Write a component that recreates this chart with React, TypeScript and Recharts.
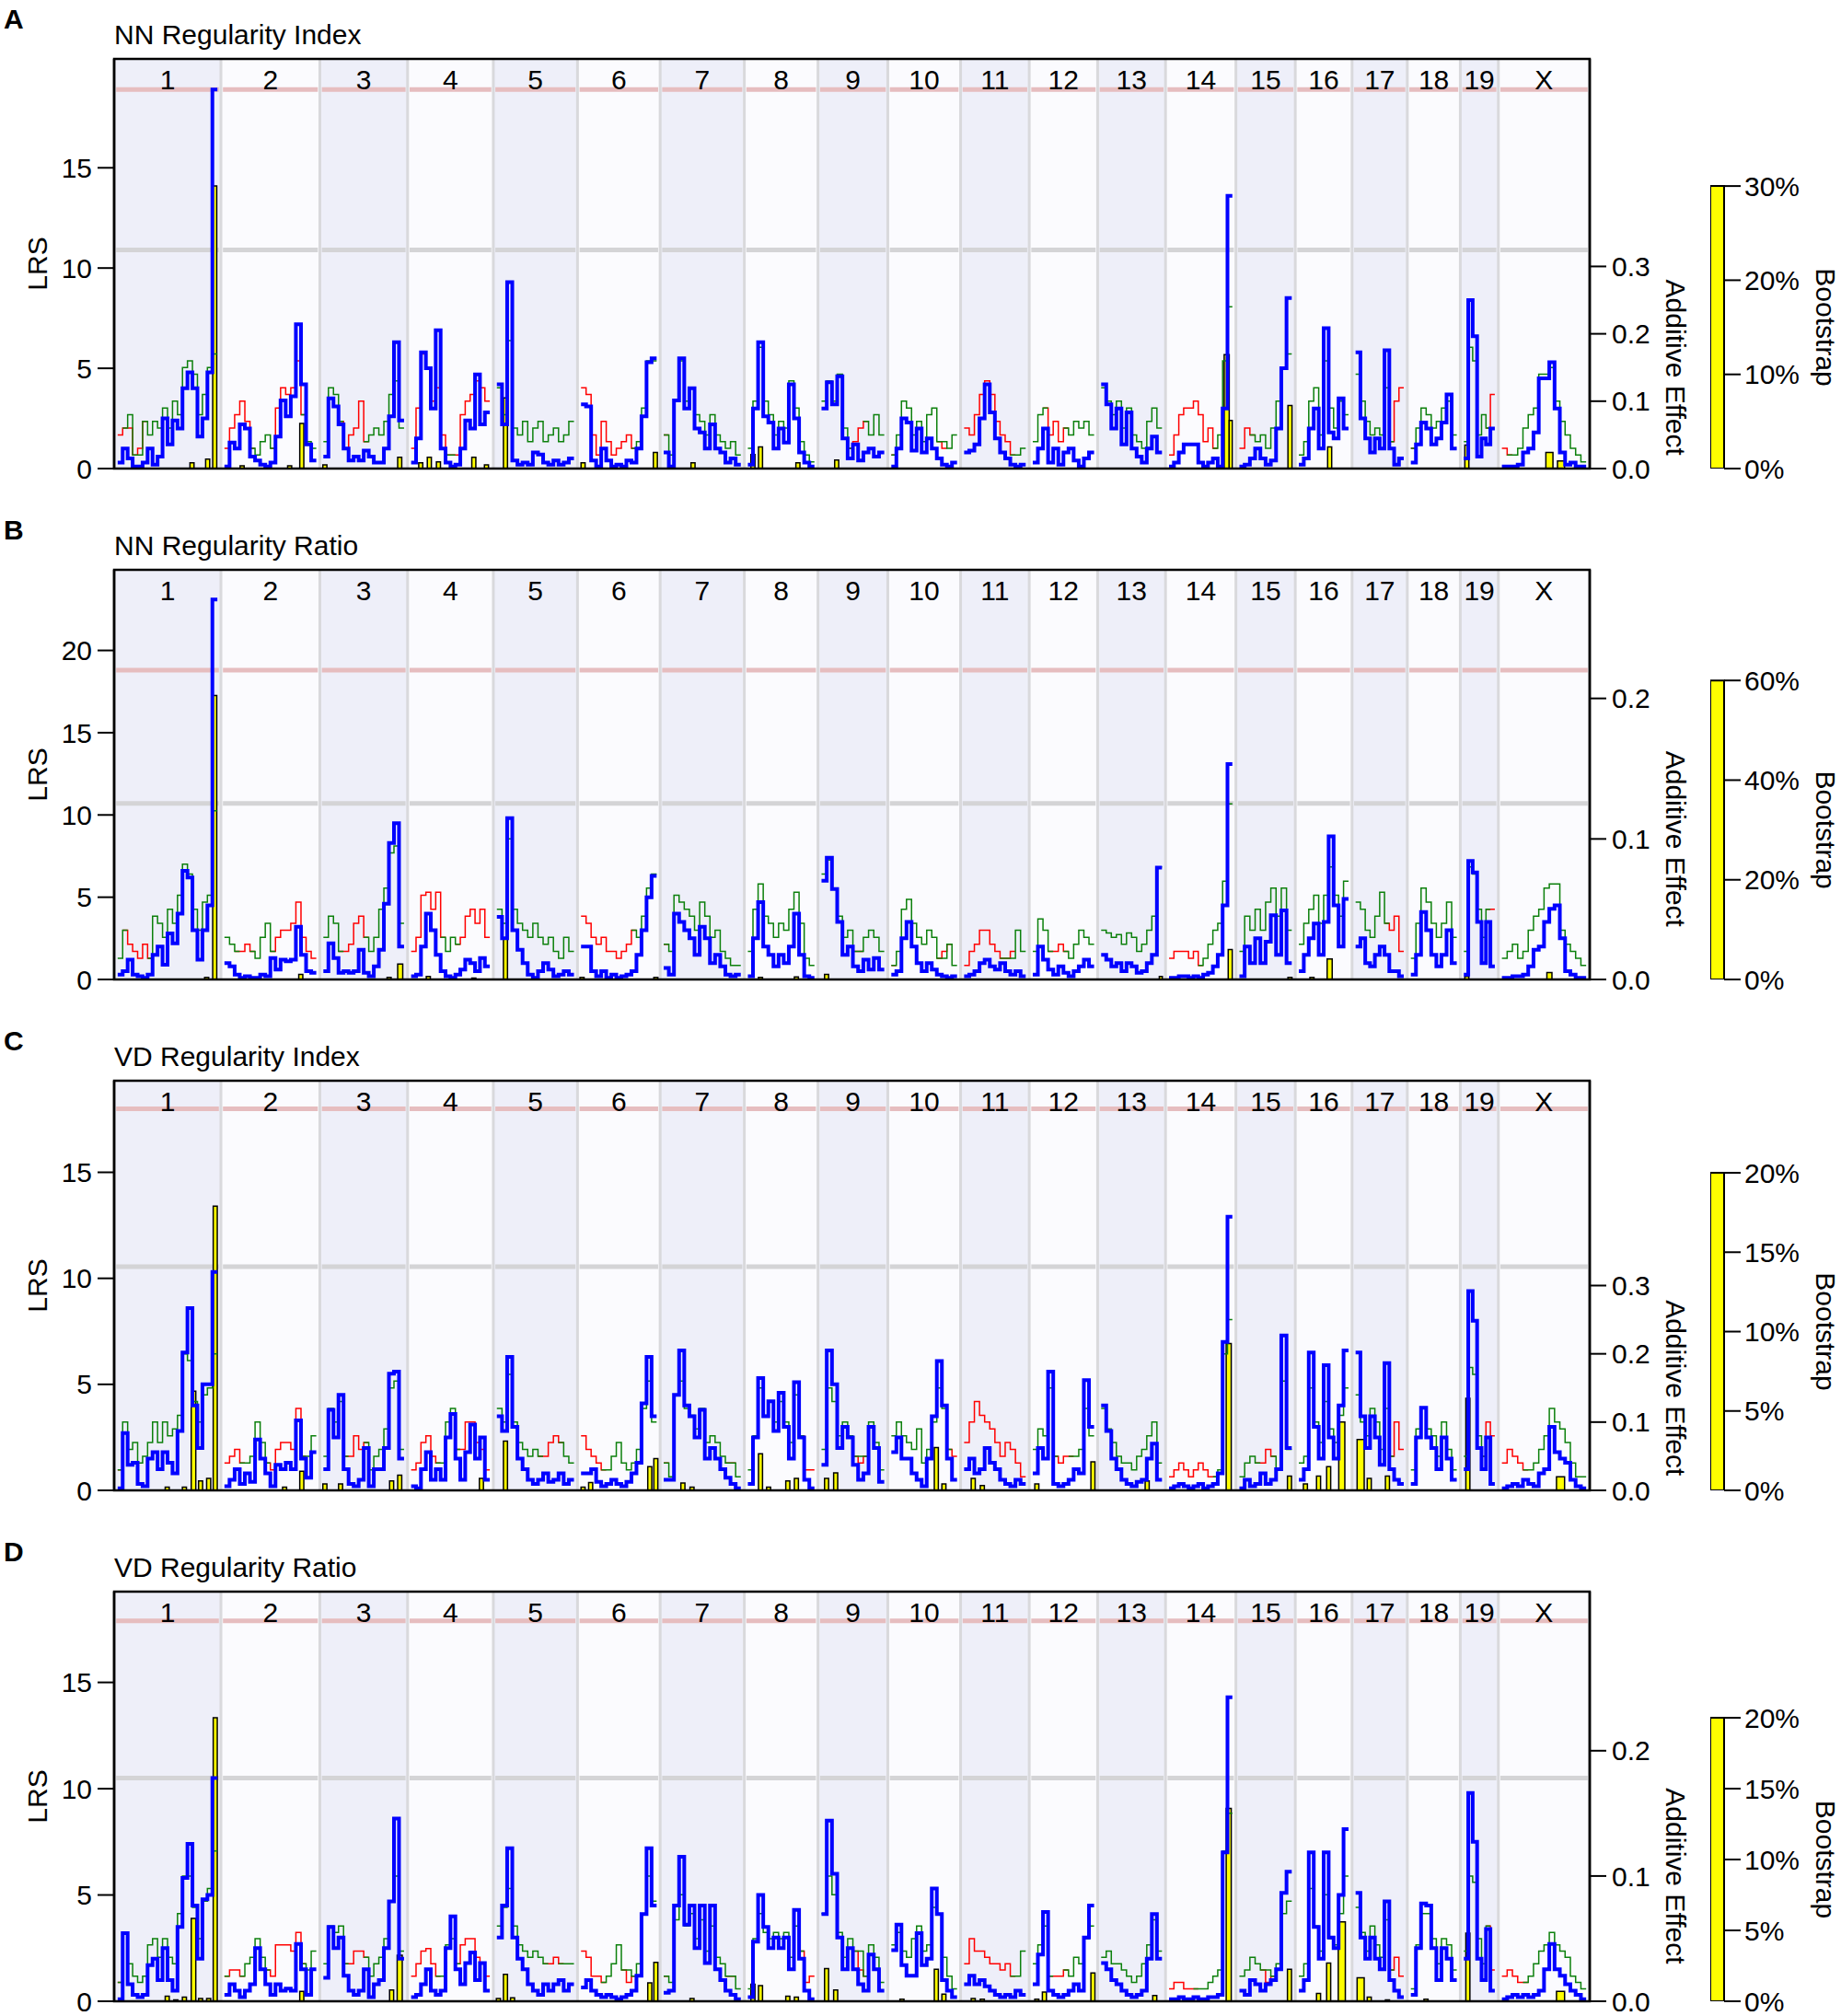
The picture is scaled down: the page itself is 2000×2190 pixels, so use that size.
import React from "react";
import {
  ComposedChart,
  BarChart,
  Bar,
  Line,
  XAxis,
  YAxis,
  ReferenceArea,
  ReferenceLine,
} from "recharts";

const FONT = '"Liberation Sans", Arial, Helvetica, sans-serif';

const CHROMS = ["1", "2", "3", "4", "5", "6", "7", "8", "9", "10", "11", "12", "13", "14", "15", "16", "17", "18", "19", "X"];
// chromosome lengths in Mb
const CHROM_MB = [197.2, 181.7, 159.6, 155.6, 152.5, 149.5, 152.5, 131.7, 124.1, 130.0, 121.8, 121.3, 120.3, 125.2, 103.5, 98.3, 95.3, 90.8, 61.3, 166.7];
const GAP_MB = 14;

const TITLES = ["NN Regularity Index", "NN Regularity Ratio", "VD Regularity Index", "VD Regularity Ratio"];
const LETTERS = ["A", "B", "C", "D"];

const LRS_MAX = [20.43, 24.9, 19.32, 19.27];
const ADD_MAX = [0.608, 0.2915, 0.6, 0.327];
const BOOT_MAX = [43.5, 82.2, 25.8, 28.9];
const SIGNIFICANT = [18.9, 18.8, 18.0, 17.9];
const SUGGESTIVE = [10.9, 10.7, 10.55, 10.5];

const LRS_TICKS = [[0, 5, 10, 15], [0, 5, 10, 15, 20], [0, 5, 10, 15], [0, 5, 10, 15]];
const ADD_TICKS = [[0, 0.1, 0.2, 0.3], [0, 0.1, 0.2], [0, 0.1, 0.2, 0.3], [0, 0.1, 0.2]];
const BOOT_TICKS = [[0, 10, 20, 30], [0, 20, 40, 60], [0, 5, 10, 15, 20], [0, 5, 10, 15, 20]];

// LRS per chromosome, left to right
const LRS_A = [
  [0.3, 1.0, 0.5, 0.1, 0.1, 0.3, 1.0, 0.2, 0.6, 2.5, 1.2, 2.4, 2.0, 4.0, 4.8, 4.0, 1.6, 2.5, 4.8, 18.9],
  [0.1, 1.3, 1.0, 2.2, 2.0, 0.6, 0.4, 0.2, 0.1, 0.3, 1.6, 3.4, 2.6, 3.6, 7.2, 4.2, 1.2, 0.4],
  [0.6, 3.5, 3.1, 2.2, 1.0, 0.4, 0.6, 0.4, 0.9, 0.6, 0.3, 0.3, 1.0, 2.6, 6.3, 2.4],
  [0.3, 1.5, 5.8, 5.0, 3.0, 6.9, 1.0, 0.3, 0.1, 0.2, 1.0, 2.4, 2.0, 4.7, 2.2, 2.8],
  [4.2, 2.2, 9.3, 0.4, 0.2, 0.3, 0.2, 0.8, 0.7, 0.3, 0.2, 0.4, 0.2, 0.3, 0.5],
  [3.2, 3.1, 0.4, 0.1, 1.0, 0.4, 0.1, 0.2, 0.1, 0.4, 0.3, 1.0, 2.6, 5.3, 5.5],
  [0.8, 0.1, 3.4, 5.5, 3.0, 4.0, 2.0, 1.8, 1.0, 2.2, 1.0, 0.8, 0.3, 0.5, 0.2],
  [0.2, 3.0, 6.3, 2.6, 2.3, 1.0, 2.0, 1.3, 4.2, 2.5, 0.8, 0.3, 0.1],
  [3.0, 4.3, 3.2, 4.6, 1.5, 0.5, 1.2, 0.4, 0.8, 1.0, 0.6, 0.8],
  [0.1, 1.0, 2.5, 2.3, 0.9, 2.0, 0.8, 1.5, 1.0, 0.5, 0.2, 0.1, 0.3],
  [0.8, 0.9, 1.2, 2.5, 4.2, 2.8, 1.5, 0.8, 0.5, 0.2, 0.1, 0.2],
  [0.3, 1.0, 2.0, 0.3, 1.0, 0.2, 0.8, 1.0, 0.4, 0.1, 0.5, 0.8],
  [4.2, 3.2, 2.0, 3.0, 1.2, 2.8, 1.0, 0.6, 0.3, 1.0, 1.6, 0.8],
  [0.1, 0.3, 0.8, 1.2, 1.2, 1.2, 0.3, 0.1, 0.3, 0.5, 0.1, 3.0, 13.6],
  [0.1, 0.2, 0.5, 1.0, 0.5, 0.2, 0.4, 2.0, 5.0, 8.5],
  [0.2, 0.5, 2.0, 3.0, 1.0, 7.0, 1.8, 1.5, 3.5, 2.0],
  [5.8, 2.5, 1.5, 0.8, 1.5, 1.0, 5.9, 1.0, 0.2, 0.5],
  [0.3, 1.2, 2.3, 2.0, 1.2, 1.5, 2.3, 3.7, 1.0],
  [0.5, 8.4, 6.6, 0.6, 1.5, 1.2, 2.0],
  [0.1, 0.1, 0.1, 0.2, 0.8, 1.0, 1.8, 4.5, 4.5, 5.3, 3.0, 0.8, 0.2, 0.3, 0.1, 0.1],
];

// additive effect: positive = green allele, negative = red allele
const ADD_A = [
  [-0.05, -0.06, 0.08, 0.02, -0.03, -0.07, 0.05, 0.07, 0.06, 0.09, 0.06, 0.1, 0.08, 0.15, 0.16, 0.14, 0.08, 0.11, 0.15, 0.17],
  [-0.03, -0.06, -0.08, -0.1, -0.07, -0.03, 0.02, 0.04, 0.05, 0.03, -0.09, -0.12, -0.11, -0.12, -0.16, -0.08, 0.04, 0.03],
  [0.04, 0.12, 0.11, 0.07, -0.03, -0.05, -0.06, -0.1, -0.04, 0.05, 0.06, 0.05, 0.07, 0.11, 0.13, 0.06],
  [-0.03, -0.09, -0.17, -0.15, -0.1, -0.12, -0.05, -0.02, 0.02, -0.02, -0.08, -0.1, -0.11, -0.13, -0.12, -0.1],
  [0.12, 0.08, 0.19, 0.06, 0.05, 0.07, 0.04, 0.06, 0.07, 0.04, 0.05, 0.06, 0.04, 0.05, 0.07],
  [-0.12, -0.11, -0.05, -0.02, -0.07, -0.04, -0.02, -0.03, -0.04, -0.05, -0.03, 0.04, 0.09, 0.16, 0.16],
  [-0.05, 0.02, 0.1, 0.16, 0.1, 0.12, 0.08, 0.07, 0.05, 0.08, 0.05, 0.04, 0.03, 0.04, 0.02],
  [0.03, 0.1, 0.18, 0.1, 0.08, 0.05, 0.07, 0.06, 0.13, 0.09, 0.04, 0.02, 0.01],
  [0.1, 0.13, 0.1, 0.14, 0.06, 0.03, -0.04, -0.06, -0.07, 0.05, 0.08, 0.05],
  [-0.02, 0.05, 0.1, 0.09, 0.05, 0.07, 0.04, 0.08, 0.09, 0.04, -0.03, 0.03, 0.05],
  [-0.06, -0.05, -0.08, -0.11, -0.13, -0.11, -0.07, -0.05, -0.04, -0.02, 0.02, 0.03],
  [0.04, 0.08, 0.09, -0.05, -0.07, -0.04, -0.06, 0.05, 0.07, 0.06, 0.07, 0.05],
  [0.12, 0.1, 0.08, 0.1, 0.06, 0.09, 0.05, 0.04, 0.03, 0.07, 0.09, 0.06],
  [-0.02, -0.05, -0.08, -0.09, -0.09, -0.1, -0.08, -0.04, -0.06, -0.03, 0.05, 0.16, 0.24],
  [-0.03, -0.06, -0.05, 0.04, 0.05, 0.03, 0.06, 0.1, 0.15, 0.17],
  [0.02, 0.04, 0.1, 0.12, 0.05, 0.16, 0.09, 0.06, 0.1, 0.08],
  [0.14, 0.1, 0.07, 0.05, 0.06, 0.05, 0.12, 0.04, -0.1, -0.12],
  [-0.03, 0.06, 0.09, 0.08, 0.06, 0.07, 0.09, 0.1, 0.05],
  [0.04, 0.18, 0.16, 0.05, 0.08, 0.06, -0.11],
  [-0.03, -0.02, 0.02, 0.03, 0.06, 0.08, 0.09, 0.14, 0.14, 0.15, 0.1, 0.07, 0.05, 0.03, 0.02, 0.01],
];

// bootstrap bins: [chromosome index, Mb, bin width Mb, percent]
const BOOT_A = [
  [0, 147, 8, 0.6], [0, 178, 8, 1.0], [0, 192, 8, 30],
  [1, 35, 8, 0.3], [1, 129, 8, 0.3], [1, 153, 8, 4.8],
  [2, 3, 8, 0.4], [2, 151, 8, 1.2],
  [3, 19, 8, 0.6], [3, 36, 8, 1.2], [3, 54, 8, 0.7], [3, 124, 8, 1.2], [3, 149, 8, 0.4],
  [4, 17, 8, 7.5],
  [5, 4, 8, 0.6], [5, 147, 8, 1.7],
  [6, 58, 8, 0.6],
  [7, 10, 8, 1.5], [7, 25, 8, 2.3], [7, 99, 8, 0.6],
  [8, 30, 8, 0.9],
  [13, 114, 10, 12.1], [13, 122, 6, 5.1],
  [14, 100, 8, 6.7],
  [15, 61, 8, 2.3],
  [18, 6, 8, 2.5],
  [19, 94, 14, 1.7], [19, 117, 14, 0.8],
];

const LRS_B = [
  [0.3, 0.5, 1.2, 0.3, 0.2, 0.1, 0.3, 1.5, 2.0, 0.9, 2.8, 2.2, 4.0, 6.6, 6.2, 3.0, 1.2, 3.0, 4.5, 23.1],
  [1.0, 0.8, 0.3, 0.1, 0.2, 0.1, 0.1, 0.3, 0.2, 1.3, 0.6, 1.2, 1.1, 1.2, 3.2, 1.5, 0.5, 0.4],
  [0.5, 2.2, 1.3, 0.4, 0.5, 0.4, 0.5, 1.8, 0.4, 0.2, 0.8, 1.8, 4.6, 8.3, 9.5, 2.0],
  [0.2, 0.3, 2.0, 4.0, 3.0, 1.5, 0.5, 0.2, 0.1, 0.3, 0.6, 1.2, 1.0, 0.5, 1.3, 0.8],
  [3.8, 2.5, 9.8, 3.0, 1.8, 1.0, 0.3, 0.1, 0.5, 1.0, 0.6, 0.2, 0.3, 0.5, 0.3],
  [2.0, 2.0, 0.5, 0.2, 0.5, 0.1, 0.3, 0.1, 0.2, 0.3, 0.5, 1.5, 3.0, 5.0, 6.3],
  [0.7, 0.3, 4.0, 3.5, 3.0, 2.5, 1.5, 3.2, 2.5, 1.0, 1.5, 0.8, 0.3, 0.2, 0.3],
  [0.2, 2.5, 4.7, 2.0, 1.5, 0.8, 1.5, 1.0, 2.0, 4.0, 1.5, 0.2, 0.1],
  [6.0, 7.4, 5.5, 3.5, 1.5, 2.0, 0.8, 0.5, 1.2, 0.6, 1.3, 0.6],
  [0.3, 0.5, 2.5, 3.5, 2.0, 1.0, 0.5, 1.0, 0.6, 0.3, 0.2, 0.1, 0.2],
  [0.2, 0.3, 0.5, 1.0, 1.2, 0.8, 0.6, 1.0, 0.5, 0.3, 0.5, 0.2],
  [0.3, 2.0, 1.2, 0.6, 0.3, 0.8, 0.4, 0.2, 0.5, 0.8, 1.2, 0.8],
  [1.5, 1.2, 0.8, 1.0, 0.5, 1.0, 0.8, 0.4, 0.5, 1.0, 1.5, 6.8],
  [0.1, 0.1, 0.2, 0.2, 0.1, 0.2, 0.1, 0.3, 0.4, 0.8, 1.5, 4.5, 13.1],
  [0.2, 2.0, 1.0, 2.5, 1.0, 2.3, 3.9, 1.5, 4.2, 1.0],
  [0.5, 1.5, 2.5, 3.4, 1.5, 3.5, 8.7, 4.5, 2.0, 4.9],
  [2.0, 2.5, 1.0, 0.8, 1.5, 2.0, 1.5, 0.5, 0.5, 0.2],
  [0.3, 1.5, 4.1, 3.0, 1.5, 0.8, 1.5, 3.0, 1.0],
  [0.3, 7.2, 6.5, 3.5, 1.0, 3.5, 0.8],
  [0.1, 0.1, 0.2, 0.2, 0.3, 0.8, 1.8, 2.0, 3.5, 4.3, 4.5, 2.5, 0.5, 0.3, 0.1, 0.1],
];

const ADD_B = [
  [0.015, 0.035, -0.025, -0.02, -0.015, -0.025, -0.015, 0.045, 0.04, 0.03, 0.05, 0.04, 0.06, 0.082, 0.075, 0.05, 0.035, 0.055, 0.06, 0.12],
  [0.03, 0.025, 0.02, -0.02, -0.025, -0.02, 0.015, 0.03, 0.04, 0.02, -0.03, -0.035, -0.035, -0.04, -0.055, -0.03, -0.02, -0.015],
  [0.03, 0.045, 0.04, 0.02, -0.02, -0.025, -0.04, -0.045, -0.03, 0.02, 0.03, 0.05, 0.065, 0.09, 0.095, 0.04],
  [-0.02, -0.03, -0.06, -0.062, -0.05, -0.062, -0.03, 0.02, 0.03, 0.025, -0.03, -0.045, -0.05, -0.04, -0.05, -0.03],
  [0.05, 0.04, 0.1, 0.05, 0.04, 0.035, 0.03, 0.04, 0.03, 0.025, 0.03, 0.02, 0.015, 0.03, 0.02],
  [-0.045, -0.04, -0.03, -0.025, -0.03, -0.02, -0.02, -0.015, -0.02, -0.025, -0.035, 0.03, 0.045, 0.065, 0.075],
  [-0.025, 0.02, 0.06, 0.055, 0.05, 0.045, 0.035, 0.055, 0.045, 0.03, 0.035, 0.02, 0.015, 0.01, 0.01],
  [0.02, 0.05, 0.068, 0.045, 0.04, 0.03, 0.04, 0.035, 0.05, 0.062, 0.04, 0.015, 0.01],
  [0.075, 0.085, 0.065, 0.045, 0.03, 0.035, 0.02, -0.02, 0.03, 0.035, 0.03, 0.02],
  [-0.01, 0.02, 0.05, 0.057, 0.04, 0.03, 0.025, 0.035, 0.03, 0.015, -0.02, -0.025, 0.01],
  [-0.01, -0.02, -0.025, -0.035, -0.035, -0.025, -0.02, -0.015, 0.015, -0.02, 0.035, 0.02],
  [0.02, 0.043, 0.035, 0.02, -0.02, -0.025, -0.02, 0.015, 0.025, 0.035, 0.03, 0.025],
  [0.035, 0.033, 0.03, 0.032, 0.025, 0.033, 0.03, 0.02, 0.025, 0.035, 0.045, 0.08],
  [-0.015, -0.02, -0.02, -0.02, -0.015, -0.02, -0.01, 0.015, 0.025, 0.035, 0.04, 0.07, 0.125],
  [0.02, 0.045, 0.035, 0.05, 0.035, 0.055, 0.065, 0.045, 0.065, 0.035],
  [0.025, 0.04, 0.05, 0.06, 0.04, 0.06, 0.08, 0.06, 0.045, 0.07],
  [0.055, 0.05, 0.035, 0.03, 0.045, 0.062, 0.04, -0.035, -0.045, -0.02],
  [0.015, 0.04, 0.065, 0.055, 0.04, 0.03, 0.04, 0.055, 0.03],
  [0.02, 0.08, 0.075, 0.05, 0.03, 0.05, -0.05],
  [0.015, 0.02, 0.025, 0.015, 0.02, 0.035, 0.045, 0.05, 0.065, 0.068, 0.068, 0.035, 0.025, 0.02, 0.015, 0.01],
];

const BOOT_B = [
  [0, 176, 8, 0.4], [0, 192, 8, 57],
  [1, 151, 8, 1.0],
  [2, 130, 8, 0.4], [2, 152, 10, 3.1],
  [3, 34, 8, 0.6], [3, 124, 8, 0.3],
  [4, 17, 8, 8.1],
  [5, 2, 8, 0.4], [5, 148, 8, 0.4],
  [7, 25, 8, 0.4], [7, 96, 8, 0.5],
  [8, 10, 8, 1.0],
  [12, 118, 6, 0.6],
  [13, 121, 8, 6.0],
  [14, 100, 8, 0.4],
  [15, 26, 8, 0.4], [15, 61, 10, 4.1],
  [18, 6, 8, 0.6],
  [19, 94, 10, 1.4],
];

const LRS_C = [
  [0.1, 2.7, 1.2, 1.3, 0.3, 0.2, 1.5, 1.8, 1.0, 1.8, 1.3, 0.8, 2.8, 6.5, 8.6, 4.0, 2.0, 5.0, 5.0, 10.3],
  [0.2, 0.5, 1.0, 0.3, 0.8, 0.4, 2.4, 1.5, 0.8, 0.2, 1.2, 1.0, 1.3, 1.0, 3.3, 1.5, 0.6, 1.8],
  [1.0, 3.8, 2.5, 4.5, 1.0, 0.3, 0.2, 0.5, 2.0, 0.2, 1.0, 1.0, 2.0, 5.5, 5.6, 1.5],
  [0.2, 0.1, 1.0, 1.8, 0.5, 1.0, 0.5, 2.5, 3.6, 1.5, 0.5, 1.8, 3.1, 1.5, 2.5, 0.5],
  [3.5, 2.8, 6.3, 3.0, 1.5, 1.0, 0.5, 0.3, 0.5, 0.8, 0.4, 0.5, 0.8, 0.3, 0.5],
  [0.8, 0.8, 1.0, 0.4, 0.2, 0.3, 0.5, 0.3, 0.2, 0.4, 0.8, 1.3, 4.1, 6.3, 3.5],
  [0.5, 0.5, 4.5, 6.6, 4.0, 3.5, 2.5, 3.8, 1.5, 2.0, 1.5, 1.0, 0.6, 0.3, 0.1],
  [0.3, 2.5, 5.3, 3.5, 4.2, 2.8, 4.6, 3.0, 1.5, 5.1, 2.5, 0.5, 0.1],
  [1.2, 6.6, 5.0, 2.0, 3.0, 2.5, 1.2, 0.5, 0.8, 3.0, 2.0, 0.4],
  [1.8, 2.5, 1.5, 1.5, 0.8, 0.5, 0.2, 1.5, 3.5, 6.1, 4.0, 1.5, 0.5],
  [1.0, 1.5, 0.8, 1.0, 2.0, 1.3, 1.0, 0.5, 0.3, 0.2, 0.5, 0.3],
  [0.8, 2.0, 1.5, 5.6, 0.3, 0.2, 0.3, 0.5, 1.0, 0.8, 5.2, 3.0],
  [4.0, 2.8, 1.5, 1.0, 0.5, 0.3, 0.2, 0.4, 0.5, 1.5, 2.2, 0.5],
  [0.1, 0.2, 0.3, 0.2, 0.1, 0.2, 0.3, 0.1, 0.2, 0.3, 0.8, 7.0, 12.9],
  [0.1, 0.5, 0.2, 0.3, 0.8, 0.3, 0.5, 1.0, 7.3, 2.0],
  [0.5, 1.0, 6.5, 3.0, 1.5, 5.9, 2.5, 1.5, 4.0, 6.6],
  [6.5, 3.5, 2.0, 3.5, 2.5, 1.2, 6.0, 1.0, 0.5, 0.3],
  [0.3, 2.5, 3.9, 2.5, 2.0, 1.0, 2.5, 1.5, 0.5],
  [1.0, 9.4, 8.0, 2.0, 1.0, 2.5, 0.3],
  [0.1, 0.2, 0.3, 0.2, 0.5, 0.3, 0.2, 0.8, 1.0, 3.0, 1.8, 1.5, 1.3, 0.5, 0.2, 0.1],
];

const ADD_C = [
  [-0.03, 0.1, 0.06, 0.07, 0.04, 0.05, 0.07, 0.1, 0.07, 0.1, 0.08, 0.09, 0.11, 0.2, 0.19, 0.13, 0.1, 0.14, 0.15, 0.2],
  [-0.04, -0.05, -0.06, -0.04, 0.04, 0.05, 0.1, 0.07, 0.04, -0.03, -0.06, -0.07, -0.07, -0.06, -0.12, -0.05, 0.05, 0.08],
  [0.05, 0.12, 0.1, 0.13, 0.05, -0.05, -0.08, -0.06, -0.07, 0.03, 0.05, 0.06, 0.09, 0.15, 0.16, 0.06],
  [-0.03, -0.04, -0.07, -0.08, -0.05, -0.04, 0.04, 0.1, 0.12, 0.06, -0.06, -0.1, -0.1, -0.07, -0.06, -0.03],
  [0.12, 0.1, 0.17, 0.1, 0.07, 0.06, 0.05, 0.06, 0.05, -0.05, -0.07, -0.08, -0.07, 0.05, 0.04],
  [-0.08, -0.06, -0.05, -0.04, -0.03, 0.03, 0.05, 0.07, 0.04, 0.03, 0.04, 0.06, 0.12, 0.16, 0.1],
  [-0.04, 0.02, 0.14, 0.16, 0.12, 0.11, 0.09, 0.12, 0.07, 0.08, 0.07, 0.05, 0.04, -0.04, 0.02],
  [0.03, 0.08, 0.15, 0.11, 0.13, 0.1, 0.13, 0.1, 0.07, 0.14, 0.08, -0.03, -0.03],
  [0.06, 0.15, 0.13, 0.08, 0.1, 0.08, 0.05, -0.04, -0.05, 0.1, 0.07, 0.03],
  [0.08, 0.1, 0.08, 0.07, 0.06, 0.09, 0.04, 0.06, 0.1, 0.15, 0.12, 0.06, -0.05],
  [-0.07, -0.1, -0.13, -0.11, -0.1, -0.09, -0.07, -0.05, -0.07, -0.06, -0.04, -0.02],
  [0.06, 0.09, 0.08, 0.15, 0.05, -0.04, -0.05, -0.05, 0.05, 0.06, 0.12, 0.08],
  [0.12, 0.09, 0.07, 0.05, 0.04, 0.04, 0.03, 0.05, 0.06, 0.08, 0.1, 0.04],
  [-0.02, -0.03, -0.04, -0.03, -0.02, -0.03, -0.04, -0.03, -0.02, -0.02, 0.03, 0.2, 0.25],
  [0.02, 0.04, 0.05, 0.04, -0.04, -0.06, -0.05, 0.03, 0.16, 0.06],
  [0.04, 0.05, 0.15, 0.1, 0.07, 0.13, 0.09, 0.07, 0.11, 0.15],
  [0.14, 0.1, 0.08, 0.12, 0.1, 0.06, 0.12, 0.05, -0.1, -0.06],
  [0.03, 0.09, 0.12, 0.09, 0.08, 0.05, 0.1, 0.06, 0.03],
  [0.05, 0.18, 0.17, 0.08, 0.05, -0.1, -0.08],
  [-0.04, -0.06, -0.05, -0.04, -0.03, 0.03, 0.04, 0.06, 0.08, 0.12, 0.1, 0.09, 0.07, 0.04, 0.02, 0.02],
];

const BOOT_C = [
  [0, 98, 8, 0.2], [0, 132, 8, 0.2], [0, 150, 9, 6.25], [0, 164, 8, 0.6], [0, 180, 8, 0.75], [0, 193, 8, 17.9],
  [1, 119, 8, 0.2], [1, 153, 8, 1.2],
  [2, 3, 8, 0.4], [2, 34, 8, 0.4], [2, 135, 8, 0.6], [2, 151, 8, 0.95],
  [3, 139, 8, 0.75],
  [4, 17, 8, 3.1],
  [5, 4, 8, 0.2], [5, 19, 8, 0.5], [5, 136, 8, 1.5], [5, 148, 8, 2.0],
  [6, 38, 8, 0.46], [6, 56, 8, 0.2],
  [7, 25, 8, 2.3], [7, 41, 8, 0.2], [7, 79, 8, 0.6], [7, 96, 8, 0.75],
  [8, 10, 8, 0.75], [8, 28, 8, 1.1],
  [9, 89, 8, 2.7], [9, 104, 8, 0.4],
  [10, 18, 8, 0.75], [10, 36, 8, 0.3],
  [11, 8, 8, 0.4], [11, 119, 8, 1.8],
  [12, 91, 8, 0.6],
  [13, 118, 10, 9.25],
  [14, 99, 8, 0.9],
  [15, 13, 8, 0.4], [15, 39, 8, 0.9], [15, 59, 8, 1.5], [15, 85, 12, 4.3],
  [16, 10, 14, 3.2], [16, 27, 8, 0.75], [16, 63, 8, 0.9],
  [18, 8, 8, 5.8],
  [19, 116, 16, 0.85],
];

const LRS_D = [
  [0.1, 3.2, 0.8, 0.3, 0.2, 0.3, 1.7, 2.0, 1.0, 2.5, 1.0, 0.5, 3.5, 5.8, 7.4, 4.5, 2.0, 4.8, 5.0, 10.5],
  [0.3, 0.8, 0.5, 0.2, 0.5, 0.8, 2.5, 1.5, 0.8, 0.3, 0.8, 0.5, 0.6, 0.5, 2.7, 1.5, 0.3, 1.5],
  [1.1, 3.5, 2.5, 3.0, 1.2, 0.5, 0.3, 0.5, 1.5, 0.2, 0.8, 1.0, 2.5, 4.7, 8.6, 2.0],
  [0.2, 0.3, 0.8, 1.5, 0.5, 0.3, 0.5, 2.5, 4.0, 1.5, 0.8, 1.8, 2.3, 1.0, 1.8, 0.5],
  [3.0, 4.5, 7.2, 3.0, 2.0, 1.5, 0.8, 0.5, 0.3, 0.8, 0.5, 0.8, 1.0, 0.5, 0.8],
  [0.65, 1.0, 0.5, 0.3, 0.2, 0.3, 0.2, 0.1, 0.2, 0.3, 0.5, 1.2, 4.1, 7.2, 4.5],
  [0.4, 0.5, 4.5, 6.8, 3.6, 4.5, 2.5, 4.5, 1.8, 4.5, 1.5, 1.0, 0.5, 0.3, 0.1],
  [0.2, 2.8, 5.0, 3.5, 2.5, 3.0, 2.5, 3.0, 1.5, 4.3, 2.0, 0.5, 0.1],
  [4.1, 8.5, 6.0, 3.0, 1.5, 2.5, 1.5, 0.8, 0.5, 2.2, 1.5, 0.5],
  [2.4, 3.6, 1.7, 1.2, 1.2, 3.2, 1.7, 2.0, 5.3, 4.1, 1.0, 0.5, 0.2],
  [0.8, 1.2, 0.8, 1.0, 0.7, 0.5, 0.3, 0.2, 0.3, 0.2, 0.5, 0.3],
  [0.8, 2.2, 4.2, 0.5, 0.3, 0.2, 0.3, 0.5, 0.8, 0.5, 3.0, 4.5],
  [1.8, 1.5, 1.0, 0.8, 0.5, 0.3, 0.2, 0.3, 0.5, 2.0, 4.1, 2.0],
  [0.1, 0.1, 0.2, 0.1, 0.1, 0.2, 0.1, 0.1, 0.2, 0.2, 0.3, 7.0, 14.3],
  [0.5, 0.3, 1.0, 0.8, 0.5, 0.8, 1.0, 1.5, 5.1, 6.1],
  [0.5, 1.0, 7.0, 3.5, 2.0, 7.0, 3.0, 2.5, 5.0, 8.1],
  [5.1, 3.0, 2.0, 3.0, 2.0, 1.5, 4.7, 1.0, 0.5, 0.2],
  [0.3, 2.5, 4.6, 4.5, 2.5, 1.0, 2.5, 2.0, 1.0],
  [2.0, 9.8, 7.5, 2.0, 1.0, 3.4, 0.5],
  [0.1, 0.2, 0.3, 0.2, 0.3, 0.2, 0.3, 0.5, 1.5, 2.7, 1.5, 1.2, 0.8, 0.5, 0.3, 0.1],
];

const ADD_D = [
  [-0.015, 0.055, 0.03, 0.02, 0.015, 0.02, 0.045, 0.05, 0.035, 0.05, 0.035, 0.03, 0.07, 0.1, 0.1, 0.075, 0.05, 0.08, 0.09, 0.12],
  [0.02, -0.025, -0.025, -0.02, 0.03, 0.035, 0.05, 0.035, 0.025, -0.02, -0.045, -0.045, -0.045, -0.04, -0.055, -0.03, 0.025, 0.04],
  [0.03, 0.06, 0.055, 0.06, 0.03, -0.03, -0.04, -0.04, -0.035, 0.02, 0.03, 0.035, 0.05, 0.08, 0.1, 0.04],
  [-0.02, -0.03, -0.04, -0.042, -0.03, -0.02, 0.02, 0.045, 0.05, 0.03, -0.045, -0.05, -0.05, -0.035, -0.03, -0.02],
  [0.06, 0.075, 0.09, 0.06, 0.045, 0.04, 0.035, 0.04, 0.035, 0.03, -0.03, -0.035, -0.03, 0.03, 0.03],
  [-0.04, -0.035, -0.02, -0.02, -0.015, 0.02, 0.03, 0.045, 0.025, -0.015, -0.02, 0.03, 0.07, 0.1, 0.08],
  [-0.02, 0.015, 0.065, 0.085, 0.06, 0.07, 0.05, 0.065, 0.04, 0.06, 0.035, 0.03, 0.02, -0.02, 0.01],
  [0.01, 0.05, 0.07, 0.055, 0.05, 0.055, 0.05, 0.055, 0.035, 0.06, 0.04, -0.015, -0.02],
  [0.07, 0.1, 0.085, 0.055, 0.035, 0.05, 0.04, -0.025, -0.02, 0.045, 0.035, 0.015],
  [0.045, 0.055, 0.04, 0.035, 0.05, 0.06, 0.04, 0.045, 0.075, 0.07, 0.035, 0.02, 0.01],
  [-0.03, -0.05, -0.04, -0.04, -0.035, -0.03, -0.03, -0.025, -0.03, -0.02, 0.02, 0.04],
  [0.03, 0.045, 0.06, 0.02, -0.02, -0.02, -0.025, 0.02, 0.035, 0.03, 0.05, 0.06],
  [0.035, 0.04, 0.03, 0.03, 0.025, 0.02, 0.015, 0.02, 0.03, 0.045, 0.065, 0.04],
  [-0.01, -0.015, -0.015, -0.01, -0.01, -0.01, 0.01, 0.01, 0.015, 0.02, 0.025, 0.12, 0.15],
  [0.02, 0.025, 0.035, 0.03, 0.025, -0.015, -0.02, 0.03, 0.07, 0.08],
  [0.02, 0.03, 0.09, 0.06, 0.04, 0.085, 0.05, 0.045, 0.07, 0.1],
  [0.075, 0.055, 0.04, 0.06, 0.045, 0.035, 0.065, 0.025, -0.035, -0.02],
  [0.01, 0.045, 0.07, 0.07, 0.05, 0.03, 0.05, 0.045, 0.025],
  [0.04, 0.1, 0.095, 0.05, 0.03, 0.06, -0.025],
  [-0.02, -0.025, -0.02, -0.015, -0.015, 0.02, 0.03, 0.04, 0.045, 0.055, 0.045, 0.04, 0.035, 0.02, 0.015, 0.01],
];

const BOOT_D = [
  [0, 98, 8, 0.35], [0, 115, 8, 0.1], [0, 132, 8, 0.3], [0, 150, 9, 5.85], [0, 164, 8, 0.2], [0, 180, 8, 0.2], [0, 193, 8, 20],
  [1, 153, 8, 0.7],
  [2, 135, 8, 0.8], [2, 151, 10, 3.25],
  [4, 3, 8, 0.2], [4, 17, 8, 1.9], [4, 31, 8, 0.25],
  [5, 136, 8, 1.3], [5, 148, 8, 2.75],
  [6, 56, 8, 0.2],
  [7, 10, 8, 1.2], [7, 25, 8, 1.1], [7, 79, 8, 0.35], [7, 96, 8, 0.3],
  [8, 10, 8, 2.3], [8, 28, 8, 0.8],
  [9, 21, 8, 0.15], [9, 89, 8, 2.25], [9, 104, 8, 0.5],
  [10, 18, 8, 0.2], [10, 36, 8, 0.15],
  [11, 8, 8, 0.15], [11, 23, 8, 0.65], [11, 119, 8, 2.0],
  [12, 106, 8, 0.4],
  [13, 118, 10, 13.6],
  [14, 99, 8, 2.25],
  [15, 39, 8, 0.55], [15, 59, 8, 2.7], [15, 85, 14, 5.6],
  [16, 10, 14, 1.65], [16, 27, 8, 0.3], [16, 63, 8, 0.1],
  [17, 30, 8, 0.15],
  [18, 8, 8, 4.8],
  [19, 116, 16, 0.7],
];

const LRS_ALL = [LRS_A, LRS_B, LRS_C, LRS_D];
const ADD_ALL = [ADD_A, ADD_B, ADD_C, ADD_D];
const BOOT_ALL = [BOOT_A, BOOT_B, BOOT_C, BOOT_D];

// layout (px)
const PANEL_H = 555;
const PLOT_TOP = 64;
const PLOT_H = 445;
const LEFT_AXIS_W = 100;
const RIGHT_AXIS_W = 90;
const PLOT_LEFT = 124;
const PLOT_RIGHT = 1727;
const LEGEND_LEFT = 1858;

const OFFSETS: number[] = [];
{
  let acc = 0;
  for (const len of CHROM_MB) {
    OFFSETS.push(acc);
    acc += len + GAP_MB;
  }
}
const X_MAX = OFFSETS[OFFSETS.length - 1] + CHROM_MB[CHROM_MB.length - 1] + GAP_MB;

function buildRows(lrs: number[][], add: number[][]) {
  const rows: { x: number; lrs: number | null; green: number | null; red: number | null }[] = [];
  lrs.forEach((vals, c) => {
    const len = CHROM_MB[c];
    const base = OFFSETS[c] + GAP_MB / 2;
    const n = vals.length;
    const eff = add[c];
    for (let k = 0; k <= n; k++) {
      const i = Math.min(k, n - 1);
      const a = eff[i];
      const prev = k > 0 ? eff[k - 1] : 0;
      const next = k < n - 1 ? eff[k + 1] : 0;
      // green/red share one trace; at a sign change the two colours meet
      rows.push({
        x: base + (k * len) / n,
        lrs: vals[i],
        green: a > 0 ? a : prev > 0 ? prev : next > 0 ? -a : null,
        red: a < 0 ? -a : prev < 0 ? -prev : next < 0 ? a : null,
      });
    }
    // break the lines between chromosomes
    rows.push({ x: OFFSETS[c] + len + GAP_MB, lrs: null, green: null, red: null });
  });
  return rows;
}

const tickStyle = { fill: "#000", fontSize: 30, fontFamily: FONT };

function Panel({ idx }: { idx: number }) {
  const rows = buildRows(LRS_ALL[idx], ADD_ALL[idx]);
  const lrsMax = LRS_MAX[idx];
  const addTicks = ADD_TICKS[idx];
  const bootTicks = BOOT_TICKS[idx];
  const plotBottom = PLOT_TOP + PLOT_H;
  const addLabelY = plotBottom - (addTicks[addTicks.length - 1] / ADD_MAX[idx]) * PLOT_H / 2;
  const bootLabelY = plotBottom - (bootTicks[bootTicks.length - 1] / BOOT_MAX[idx]) * PLOT_H / 2;

  return (
    <div style={{ position: "absolute", left: 0, top: idx * PANEL_H, width: 2000, height: PANEL_H }}>
      <div style={{ position: "absolute", left: 0, top: 0 }}>
        <ComposedChart
          width={2000}
          height={PANEL_H}
          data={rows}
          margin={{ top: PLOT_TOP, right: 2000 - PLOT_RIGHT - RIGHT_AXIS_W, bottom: PANEL_H - PLOT_TOP - PLOT_H, left: PLOT_LEFT - LEFT_AXIS_W }}
        >
          <XAxis dataKey="x" type="number" domain={[0, X_MAX]} hide allowDataOverflow />
          <YAxis
            yAxisId="lrs"
            domain={[0, lrsMax]}
            ticks={LRS_TICKS[idx]}
            interval={0}
            allowDataOverflow
            width={LEFT_AXIS_W}
            tickSize={18}
            tickMargin={6}
            tick={tickStyle}
            tickLine={{ stroke: "#000", strokeWidth: 2 }}
            axisLine={{ stroke: "#000", strokeWidth: 2.5 }}
          />
          <YAxis
            yAxisId="add"
            orientation="right"
            domain={[0, ADD_MAX[idx]]}
            ticks={addTicks}
            interval={0}
            allowDataOverflow
            width={RIGHT_AXIS_W}
            tickSize={18}
            tickMargin={6}
            tick={tickStyle}
            tickFormatter={(v: number) => v.toFixed(1)}
            tickLine={{ stroke: "#000", strokeWidth: 2 }}
            axisLine={{ stroke: "#000", strokeWidth: 2.5 }}
          />
          <YAxis yAxisId="boot" orientation="right" hide width={0} domain={[0, BOOT_MAX[idx]]} allowDataOverflow />

          {CHROMS.map((name, c) => (
            <ReferenceArea
              key={`band${c}`}
              yAxisId="lrs"
              x1={OFFSETS[c]}
              x2={OFFSETS[c] + CHROM_MB[c] + GAP_MB}
              y1={0}
              y2={lrsMax}
              fill={c % 2 === 0 ? "#EEEFF9" : "#FBFBFE"}
              fillOpacity={1}
              stroke="none"
              zIndex={10}
              label={{ value: name, position: "insideTop", offset: 12, fontSize: 30, fill: "#000", fontFamily: FONT }}
            />
          ))}
          {CHROMS.slice(1).map((_, j) => (
            <ReferenceLine
              key={`sep${j}`}
              yAxisId="lrs"
              x={OFFSETS[j + 1]}
              stroke="#D9D9DC"
              strokeWidth={3}
              zIndex={20}
            />
          ))}
          {CHROMS.map((_, c) => (
            <ReferenceLine
              key={`sig${c}`}
              yAxisId="lrs"
              segment={[
                { x: OFFSETS[c] + 4, y: SIGNIFICANT[idx] },
                { x: OFFSETS[c] + CHROM_MB[c] + GAP_MB - 4, y: SIGNIFICANT[idx] },
              ]}
              stroke="#E6BDBF"
              strokeWidth={5}
              zIndex={30}
            />
          ))}
          {CHROMS.map((_, c) => (
            <ReferenceLine
              key={`sug${c}`}
              yAxisId="lrs"
              segment={[
                { x: OFFSETS[c] + 4, y: SUGGESTIVE[idx] },
                { x: OFFSETS[c] + CHROM_MB[c] + GAP_MB - 4, y: SUGGESTIVE[idx] },
              ]}
              stroke="#D4D4D6"
              strokeWidth={5}
              zIndex={30}
            />
          ))}
          {BOOT_ALL[idx].map(([c, mb, w, pct], j) => {
            const base = OFFSETS[c] + GAP_MB / 2;
            const hi = OFFSETS[c] + CHROM_MB[c] + GAP_MB - 1;
            return (
              <ReferenceArea
                key={`boot${j}`}
                yAxisId="boot"
                x1={Math.max(OFFSETS[c] + 1, base + mb - w / 2)}
                x2={Math.min(hi, base + mb + w / 2)}
                y1={0}
                y2={pct}
                fill="#FFFF00"
                fillOpacity={1}
                stroke="#000"
                strokeWidth={1.5}
                zIndex={40}
              />
            );
          })}

          <Line yAxisId="add" type="stepAfter" dataKey="red" stroke="#FF0000" strokeWidth={1.5} dot={false} isAnimationActive={false} />
          <Line yAxisId="add" type="stepAfter" dataKey="green" stroke="#0C800C" strokeWidth={1.5} dot={false} isAnimationActive={false} />
          <Line yAxisId="lrs" type="stepAfter" dataKey="lrs" stroke="#0000FF" strokeWidth={4} dot={false} isAnimationActive={false} />

          <ReferenceArea
            yAxisId="lrs"
            x1={0}
            x2={X_MAX}
            y1={0}
            y2={lrsMax}
            fill="none"
            stroke="#000"
            strokeWidth={2.5}
            zIndex={450}
          />
        </ComposedChart>
      </div>

      <div style={{ position: "absolute", left: LEGEND_LEFT, top: 0 }}>
        <BarChart
          width={15 + 100}
          height={PANEL_H}
          data={[{ k: "Bootstrap", v: bootTicks[bootTicks.length - 1] }]}
          margin={{ top: PLOT_TOP, right: 0, bottom: PANEL_H - PLOT_TOP - PLOT_H, left: 0 }}
          barCategoryGap={0}
        >
          <XAxis dataKey="k" hide />
          <YAxis
            orientation="right"
            width={100}
            domain={[0, BOOT_MAX[idx]]}
            ticks={bootTicks}
            interval={0}
            allowDataOverflow
            axisLine={false}
            tickSize={18}
            tickMargin={4}
            tick={tickStyle}
            tickLine={{ stroke: "#000", strokeWidth: 2 }}
            tickFormatter={(v: number) => `${v}%`}
          />
          <Bar dataKey="v" fill="#FFFF00" stroke="#000" strokeWidth={2} isAnimationActive={false} />
        </BarChart>
      </div>

      <svg
        width={2000}
        height={PANEL_H}
        style={{ position: "absolute", left: 0, top: 0, pointerEvents: "none", fontFamily: FONT }}
      >
        <text x={4} y={PLOT_TOP - 33} fontSize={30} fontWeight="bold" fill="#000">
          {LETTERS[idx]}
        </text>
        <text x={PLOT_LEFT} y={PLOT_TOP - 16} fontSize={30} fill="#000">
          {TITLES[idx]}
        </text>
        <text
          transform={`translate(40, ${PLOT_TOP + PLOT_H / 2}) rotate(-90)`}
          textAnchor="middle"
          dominantBaseline="central"
          fontSize={30}
          fill="#000"
        >
          LRS
        </text>
        <text
          transform={`translate(1820, ${addLabelY}) rotate(90)`}
          textAnchor="middle"
          dominantBaseline="central"
          fontSize={30}
          fill="#000"
        >
          Additive Effect
        </text>
        <text
          transform={`translate(1983, ${bootLabelY}) rotate(90)`}
          textAnchor="middle"
          dominantBaseline="central"
          fontSize={30}
          fill="#000"
        >
          Bootstrap
        </text>
      </svg>
    </div>
  );
}

export default function App() {
  return (
    <div
      style={{
        position: "relative",
        width: 2000,
        height: 2190,
        overflow: "hidden",
        background: "#fff",
        fontFamily: FONT,
      }}
    >
      <style>{`body{margin:0;}`}</style>
      {[0, 1, 2, 3].map((i) => (
        <Panel key={i} idx={i} />
      ))}
    </div>
  );
}
